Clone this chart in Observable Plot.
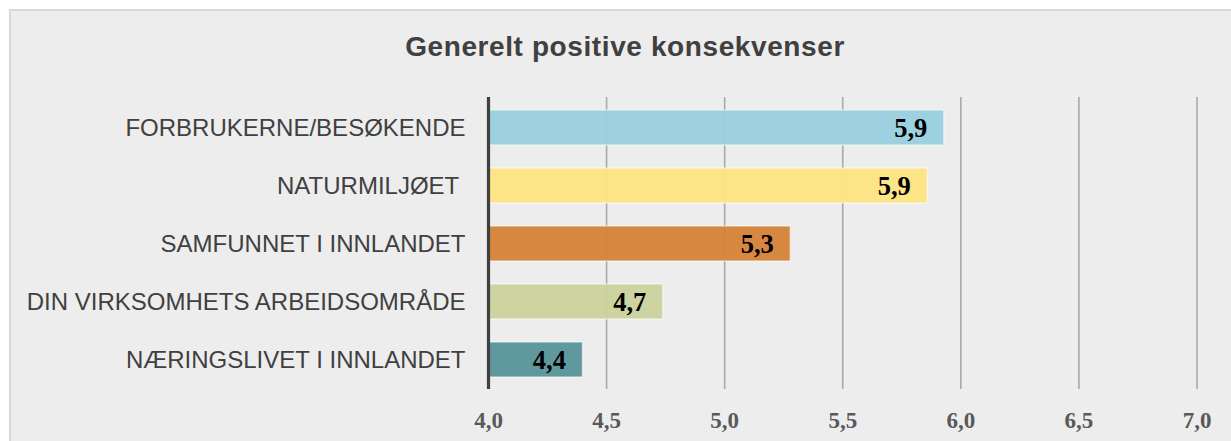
<!DOCTYPE html>
<html>
<head>
<meta charset="utf-8">
<script src="https://cdn.jsdelivr.net/npm/d3@7"></script>
<script src="https://cdn.jsdelivr.net/npm/@observablehq/plot@0.6"></script>
<style>
  html, body { margin: 0; padding: 0; background: #ffffff; width: 1231px; height: 441px; overflow: hidden; }
  #box { position: absolute; left: 9px; top: 9px; width: 1240px; height: 450px; background: #ededed;
         border-top: 2px solid #d9d9d9; border-left: 2px solid #d9d9d9; }
  #title { position: absolute; left: 0; top: 33px; width: 1250px; text-align: center;
           font-family: "Liberation Sans", Arial, sans-serif; font-weight: bold; font-size: 28px;
           line-height: 28px; letter-spacing: 0.6px; color: #404040; }
  #chart { position: absolute; left: 0; top: 0; }
  #chart svg text { white-space: pre; }
</style>
</head>
<body>
<div id="box"></div>
<div id="title">Generelt positive konsekvenser</div>
<div id="chart"></div>
<script>
const categories = [
  "FORBRUKERNE/BESØKENDE",
  "NATURMILJØET ",
  "SAMFUNNET I INNLANDET",
  "DIN VIRKSOMHETS ARBEIDSOMRÅDE",
  "NÆRINGSLIVET I INNLANDET"
];
const values = [5.93, 5.86, 5.28, 4.74, 4.40];
const colors = ["#9bcfdf", "#fde382", "#d6843a", "#cbd39e", "#5a969a"];
const xTicks = [4.0, 4.5, 5.0, 5.5, 6.0, 6.5, 7.0];
const baseline = 4.0;

const fmt = d => d.toFixed(1).replace(".", ",");
const data = categories.map((c, i) => ({category: c, value: values[i]}));

const chart = Plot.plot({
  width: 1231,
  height: 441,
  marginLeft: 488,
  marginRight: 34.5,
  marginTop: 97,
  marginBottom: 52,
  style: {background: "transparent", fontFamily: "'Liberation Sans', Arial, sans-serif"},
  x: {domain: [4, 7], label: null},
  y: {domain: categories, label: null, paddingInner: 0.4, paddingOuter: 0.2},
  color: {domain: categories, range: colors},
  marks: [
    Plot.gridX(xTicks.slice(1), {stroke: "#a9a9a9", strokeOpacity: 1, strokeWidth: 1.6}),
    Plot.barX(data, {
      y: "category", x1: () => baseline, x2: "value", fill: "category",
      fillOpacity: 0.97, stroke: "#ffffff", strokeOpacity: 0.5, strokeWidth: 1.5
    }),
    Plot.ruleX([baseline], {stroke: "#404040", strokeWidth: 3.2}),
    Plot.text(data, {
      y: "category", x: "value", text: d => fmt(d.value), textAnchor: "end", dx: -17, dy: 1,
      fontFamily: "'Liberation Serif', 'Times New Roman', serif", fontWeight: "bold",
      fontSize: 26.5, fill: "#000000"
    }),
    Plot.axisY({
      tickSize: 0, tickPadding: 23, label: null, fontSize: 24, fill: "#404040",
      fontFamily: "'Liberation Sans', Arial, sans-serif"
    }),
    Plot.axisX({
      ticks: xTicks, tickSize: 0, tickPadding: 22, label: null, tickFormat: fmt,
      fontSize: 23, fontWeight: "bold", fill: "#595959",
      fontFamily: "'Liberation Serif', 'Times New Roman', serif"
    })
  ]
});
document.getElementById("chart").appendChild(chart);
</script>
</body>
</html>
